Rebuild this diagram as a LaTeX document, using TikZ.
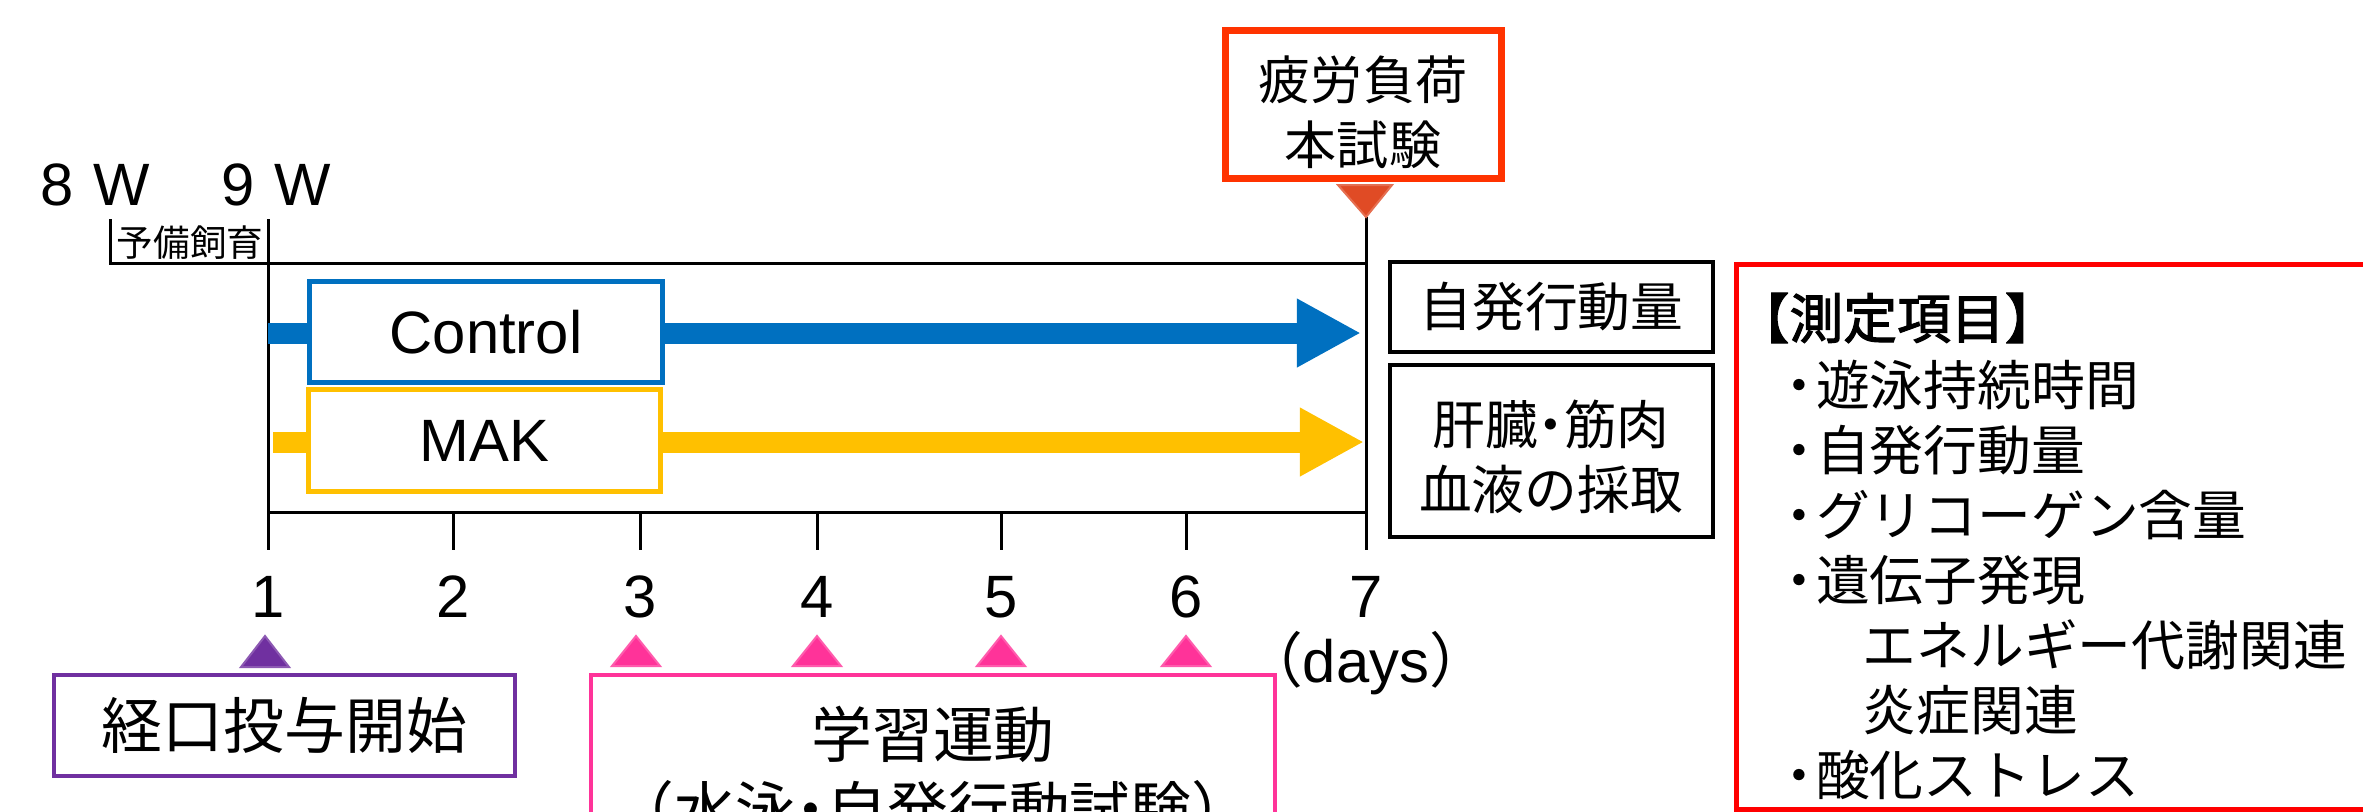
\documentclass[tikz,border=0pt]{standalone}
\usepackage{fontspec}
\setmainfont{Liberation Sans}
\newfontfamily\jp{Noto Sans CJK JP}
\newfontfamily\jpb[FakeBold=2]{Noto Sans CJK JP}
\usetikzlibrary{arrows.meta}
\definecolor{cblue}{HTML}{0070C0}
\definecolor{cyel}{HTML}{FFC000}
\definecolor{cpurple}{HTML}{7030A0}
\definecolor{cpink}{HTML}{FF3399}
\definecolor{cored}{HTML}{FF3300}
\definecolor{ctri}{HTML}{E04B25}
\definecolor{cbig}{HTML}{FF0000}
\newcommand{\ndot}[1]{\makebox[#1][c]{・}}
\begin{document}
\begin{tikzpicture}[x=0.01cm,y=-0.01cm,
  axisline/.style={line width=0.3mm, black},
  lat/.style={font=\fontsize{17}{20}\selectfont, inner sep=0},
  jpt/.style={font=\jp\fontsize{#1}{#1}\selectfont, inner sep=0, align=center},
  listtxt/.style={inner sep=0, anchor=west, font=\jp\fontsize{15.3pt}{16pt}\selectfont},
  bigarrow/.style={line width=2.1mm, -{Triangle[length=6.4mm,width=6.4mm]}},
  grpbox/.style={draw=#1, line width=0.5mm, fill=white, inner sep=0},
  blackbox/.style={draw=black, line width=0.45mm, inner sep=0},
  tri/.style={fill=#1, draw=#1!80!white, line width=0.2mm}]
\useasboundingbox (0,0) rectangle (2363,811);

% week labels
\node[lat] (w8) at (95,185) {8\,\,W};
\node[lat] (w9) at (276,185) {9\,\,W};
\node[jpt=10.4pt] (pre) at (190,243) {予備飼育};

% timeline frame
\coordinate (bl) at (110,219);
\coordinate (blb) at (110,263);
\coordinate (d1top) at (268,219);
\coordinate (d7top) at (1366,217);
\coordinate (topR) at (1366,263);
\draw[axisline] (bl) -- (blb) -- (topR);
\draw[axisline] (d1top) -- (268,550);
\draw[axisline] (d7top) -- (1366,550);
\draw[axisline] (268,512) -- (1366,512);
\foreach \x in {453,640,817,1001,1186} \draw[axisline] (\x,512) -- (\x,550);

% day numbers
\foreach \i/\x in {1/268,2/453,3/640,4/817,5/1001,6/1186,7/1366}
  \node[lat] (n\i) at (\x,597) {\i};
\node[lat] (days) at (1366,663) {{\jp （}days{\jp ）}};

% group arrows
\coordinate (cs) at (268,333); \coordinate (ce) at (1361,333);
\coordinate (ms) at (273,442); \coordinate (me) at (1364,442);
\draw[bigarrow, cblue] (cs) -- (ce);
\draw[bigarrow, cyel] (ms) -- (me);
\node[grpbox=cblue, minimum width=35.2mm, minimum height=10mm, lat] (ctrl) at (486,332) {Control};
\node[grpbox=cyel, minimum width=35.1mm, minimum height=10.1mm, lat] (mak) at (484.5,440.5) {MAK};

% fatigue test box
\node[draw=cored, line width=0.7mm, minimum width=27.5mm, minimum height=14.7mm, inner sep=0] (fat) at (1363.5,104.5) {};
\node[jpt=14.8pt, font=\jp\fontsize{14.8pt}{18.5pt}\selectfont] (fattxt) at (1363,112) {疲労負荷\\本試験};
\fill[tri=ctri] (1338,185) -- (1392,185) -- (1366,217) -- cycle;

% right boxes
\node[blackbox, minimum width=32.3mm, minimum height=9mm, jpt=15pt] (spont) at (1551.5,307) {自発行動量};
\node[blackbox, minimum width=32.3mm, minimum height=17.2mm] (organ) at (1551.5,451) {};
\node[jpt=15pt, font=\jp\fontsize{15pt}{18.5pt}\selectfont] (organtxt) at (1551,457) {肝臓\ndot{0.5em}筋肉\\血液の採取};

% measurement items
\draw[cbig, line width=0.5mm] (1736,264) rectangle (2420,809);
\node[inner sep=0, anchor=west, font=\jpb\fontsize{15.3pt}{16pt}\selectfont] (mh) at (1735,318) {【測定項目】};
\foreach \t/\y in {遊泳持続時間/385, 自発行動量/450, グリコーゲン含量/515, 遺伝子発現/580, 酸化ストレス/775}
  \node[listtxt] (m\y) at (1783,\y) {\ndot{0.6em}\t};
\foreach \t/\y in {エネルギー代謝関連/645, 炎症関連/710}
  \node[listtxt] (s\y) at (1862,\y) {\t};

% oral administration
\fill[tri=cpurple] (241,667) -- (289,667) -- (265,636) -- cycle;
\node[grpbox=cpurple, line width=0.45mm, minimum width=46.1mm, minimum height=10.1mm, jpt=17.3pt] (oral) at (284.5,725.5) {経口投与開始};

% learning exercise
\foreach \x in {636,817,1001,1186}
  \fill[tri=cpink] (\x-24,666) -- (\x+24,666) -- (\x,636) -- cycle;
\node[grpbox=cpink, line width=0.45mm, minimum width=68.4mm, minimum height=22.5mm] (learn) at (933,787.5) {};
\node[jpt=17.3pt] (learn1) at (933,734) {学習運動};
\node[jpt=17.3pt] (learn2) at (933,809) {（水泳\ndot{0.5em}自発行動試験）};
\end{tikzpicture}
\end{document}
